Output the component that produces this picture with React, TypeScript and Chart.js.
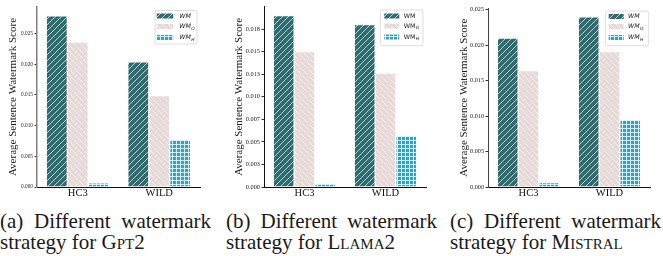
import React, { useEffect, useRef } from 'react';
import { Chart, registerables } from 'chart.js';

Chart.register(...registerables);

// ---- data ----
const categories = ['HC3', 'WILD'];
const seriesLabels = ['WM', 'WM_O', 'WM_H'];

const gpt2WM = [0.0279, 0.0204];
const gpt2WMO = [0.0236, 0.0149];
const gpt2WMH = [0.00065, 0.0077];

const llama2WM = [0.0190, 0.0180];
const llama2WMO = [0.0150, 0.0126];
const llama2WMH = [0.0004, 0.0057];

const mistralWM = [0.0210, 0.0240];
const mistralWMO = [0.0164, 0.0191];
const mistralWMH = [0.0006, 0.0095];

const gpt2Ticks = [0, 0.005, 0.01, 0.015, 0.02, 0.025];
const gpt2TickLabels = ['0.000', '0.005', '0.010', '0.015', '0.020', '0.025'];
const llama2Ticks = [0, 0.0025, 0.005, 0.0075, 0.01, 0.0125, 0.015, 0.0175];
const llama2TickLabels = ['0.000', '0.003', '0.005', '0.007', '0.010', '0.013', '0.015', '0.018'];
const mistralTicks = [0, 0.005, 0.01, 0.015, 0.02, 0.025];
const mistralTickLabels = ['0.000', '0.005', '0.010', '0.015', '0.020', '0.025'];

const yTitle = 'Average Sentence Watermark Score';

const colWM = '#2f6c70';
const colWMO = '#e9d8d8';
const colWMH = '#3d9fba';

const SERIF = '"Liberation Serif", "Times New Roman", serif';

function makePattern(kind: string, bg: string) {
  const c = document.createElement('canvas');
  const s = kind === '+' ? 4 : 6;
  c.width = s;
  c.height = s;
  const ctx = c.getContext('2d')!;
  ctx.fillStyle = bg;
  ctx.fillRect(0, 0, s, s);
  ctx.strokeStyle = 'rgba(255,255,255,0.85)';
  ctx.lineWidth = 0.8;
  ctx.beginPath();
  if (kind === '/') {
    ctx.moveTo(-1, s + 1); ctx.lineTo(s + 1, -1);
    ctx.moveTo(-1, 1); ctx.lineTo(1, -1);
    ctx.moveTo(s - 1, s + 1); ctx.lineTo(s + 1, s - 1);
  } else if (kind === '\\') {
    ctx.moveTo(-1, -1); ctx.lineTo(s + 1, s + 1);
    ctx.moveTo(s - 1, -1); ctx.lineTo(s + 1, 1);
    ctx.moveTo(-1, s - 1); ctx.lineTo(1, s + 1);
  } else {
    ctx.lineWidth = 0.9;
    ctx.moveTo(0.5, 0); ctx.lineTo(0.5, s);
    ctx.moveTo(0, 0.5); ctx.lineTo(s, 0.5);
  }
  ctx.stroke();
  return ctx.createPattern(c, 'repeat');
}

const legendPlugin = {
  id: 'customLegend',
  afterDraw(chart: any, _args: any, opts: any) {
    const ctx = chart.ctx as CanvasRenderingContext2D;
    const { box, swatchX, swatchW, swatchH, textX, rows, italic, size } = opts;
    ctx.save();
    ctx.beginPath();
    const r = 2;
    const { x, y, w, h } = box;
    ctx.moveTo(x + r, y);
    ctx.arcTo(x + w, y, x + w, y + h, r);
    ctx.arcTo(x + w, y + h, x, y + h, r);
    ctx.arcTo(x, y + h, x, y, r);
    ctx.arcTo(x, y, x + w, y, r);
    ctx.closePath();
    ctx.fillStyle = 'rgba(255,255,255,0.85)';
    ctx.fill();
    ctx.strokeStyle = '#d6d6d6';
    ctx.lineWidth = 0.8;
    ctx.stroke();
    chart.data.datasets.forEach((ds: any, i: number) => {
      const cy = rows[i];
      ctx.fillStyle = ds.backgroundColor;
      ctx.fillRect(swatchX, cy - swatchH / 2, swatchW, swatchH);
      const parts = String(ds.label).split('_');
      const style = italic ? 'italic ' : '';
      ctx.fillStyle = '#222';
      ctx.textBaseline = 'middle';
      ctx.textAlign = 'left';
      ctx.font = `${style}${size}px "DejaVu Sans"`;
      ctx.fillText(parts[0], textX, cy);
      if (parts[1]) {
        const wMain = ctx.measureText(parts[0]).width;
        ctx.font = `${style}${size * 0.7}px "DejaVu Sans"`;
        ctx.fillText(parts[1], textX + wMain + 0.3, cy + size * 0.35);
      }
    });
    ctx.restore();
  },
};

type Cfg = {
  wm: number[];
  wmo: number[];
  wmh: number[];
  ticks: number[];
  tickLabels: string[];
  yMax: number;
  yWidth: number;
  right: number;
  top: number;
  tickSize: number;
  titlePad: number;
  yBorder: string;
  yBorderWidth: number;
  legend: any;
};

function BarPanel({ cfg, left }: { cfg: Cfg; left: number }) {
  const ref = useRef<HTMLCanvasElement>(null);
  useEffect(() => {
    const pWM = makePattern('/', colWM);
    const pWMO = makePattern('\\', colWMO);
    const pWMH = makePattern('+', colWMH);
    const chart = new Chart(ref.current!, {
      type: 'bar',
      data: {
        labels: categories,
        datasets: [
          { label: seriesLabels[0], data: cfg.wm, backgroundColor: pWM as any, borderColor: '#ffffff', borderWidth: 0.6 },
          { label: seriesLabels[1], data: cfg.wmo, backgroundColor: pWMO as any, borderColor: '#ffffff', borderWidth: 0.6 },
          { label: seriesLabels[2], data: cfg.wmh, backgroundColor: pWMH as any, borderColor: '#ffffff', borderWidth: 0.6 },
        ],
      },
      options: {
        responsive: false,
        animation: false,
        devicePixelRatio: 1,
        layout: { padding: { left: 0, top: cfg.top, right: cfg.right, bottom: 0 } },
        datasets: { bar: { categoryPercentage: 0.77, barPercentage: 1 } },
        plugins: {
          legend: { display: false },
          tooltip: { enabled: false },
          customLegend: cfg.legend,
        } as any,
        scales: {
          x: {
            type: 'category',
            offset: true,
            afterFit: (s: any) => { s.height = 13; },
            grid: { display: false, drawTicks: false },
            border: { color: '#111', width: 1 },
            ticks: { font: { family: SERIF, size: 10.5 }, color: '#111', padding: 0, maxRotation: 0 },
          },
          y: {
            type: 'linear',
            min: 0,
            max: cfg.yMax,
            afterFit: (s: any) => { s.width = cfg.yWidth; },
            afterBuildTicks: (s: any) => { s.ticks = cfg.ticks.map((v) => ({ value: v })); },
            grid: { drawOnChartArea: false, drawTicks: true, tickLength: 2.5, color: '#333' },
            border: { color: cfg.yBorder, width: cfg.yBorderWidth },
            ticks: {
              font: { family: SERIF, size: cfg.tickSize },
              color: '#222',
              padding: 1.5,
              callback: (_v: any, i: number) => cfg.tickLabels[i],
            },
            title: {
              display: true,
              text: yTitle,
              font: { family: SERIF, size: 11 },
              color: '#222',
              padding: { top: cfg.titlePad, bottom: 0 },
            },
          },
        },
      },
      plugins: [legendPlugin as any],
    });
    return () => chart.destroy();
  }, []);
  return (
    <canvas
      ref={ref}
      width={221}
      height={200}
      style={{ position: 'absolute', left, top: 0, width: 221, height: 200 }}
    />
  );
}

const cfgA: Cfg = {
  wm: gpt2WM, wmo: gpt2WMO, wmh: gpt2WMH,
  ticks: gpt2Ticks, tickLabels: gpt2TickLabels, yMax: 0.02933,
  yWidth: 37, right: 21, top: 7, tickSize: 5.3, titlePad: 6.7,
  yBorder: '#808080', yBorderWidth: 1.5,
  legend: { box: { x: 155, y: 10.5, w: 42, h: 33.5 }, swatchX: 156.7, swatchW: 16.5, swatchH: 5, textX: 179.3, rows: [16, 26.5, 37.5], italic: true, size: 6.3 },
};
const cfgB: Cfg = {
  wm: llama2WM, wmo: llama2WMO, wmh: llama2WMH,
  ticks: llama2Ticks, tickLabels: llama2TickLabels, yMax: 0.01998,
  yWidth: 43, right: 16, top: 6.7, tickSize: 6.3, titlePad: 11.4,
  yBorder: '#111', yBorderWidth: 1,
  legend: { box: { x: 159.3, y: 10, w: 42.7, h: 35.7 }, swatchX: 163.3, swatchW: 15, swatchH: 5, textX: 182.7, rows: [16, 26, 37], italic: false, size: 6.3 },
};
const cfgC: Cfg = {
  wm: mistralWM, wmo: mistralWMO, wmh: mistralWMH,
  ticks: mistralTicks, tickLabels: mistralTickLabels, yMax: 0.0252,
  yWidth: 46, right: 13, top: 8.3, tickSize: 6.2, titlePad: 15.1,
  yBorder: '#444', yBorderWidth: 1,
  legend: { box: { x: 163.3, y: 11, w: 43.4, h: 34.7 }, swatchX: 166.7, swatchW: 15, swatchH: 5, textX: 186, rows: [16.5, 26.5, 37.5], italic: true, size: 6.3 },
};

const captionLine1 = ['(a) Different watermark', '(b) Different watermark', '(c) Different watermark'];
const captionLine2Prefix = 'strategy for ';
const captionModels = ['Gpt2', 'Llama2', 'Mistral'];
const captionLefts = [0, 226, 450];

export default function App() {
  return (
    <div style={{ position: 'absolute', left: 0, top: 0, width: 663, height: 256, background: '#fff', overflow: 'hidden' }}>
      <BarPanel cfg={cfgA} left={0} />
      <BarPanel cfg={cfgB} left={221} />
      <BarPanel cfg={cfgC} left={442} />
      {captionLine1.map((t, i) => (
        <div key={'l1' + i} style={{ position: 'absolute', left: captionLefts[i], top: 210.5, width: 211, fontFamily: SERIF, fontSize: 21, lineHeight: '21px', textAlign: 'justify', textAlignLast: 'justify', whiteSpace: 'nowrap', color: '#1a1a1a' } as any}>
          {t}
        </div>
      ))}
      {captionModels.map((m, i) => (
        <div key={'l2' + i} style={{ position: 'absolute', left: captionLefts[i], top: 231.5, width: 211, fontFamily: SERIF, fontSize: 21, lineHeight: '21px', whiteSpace: 'nowrap', color: '#1a1a1a' }}>
          {captionLine2Prefix}
          <span style={{ fontVariant: 'small-caps' }}>{m}</span>
        </div>
      ))}
    </div>
  );
}
